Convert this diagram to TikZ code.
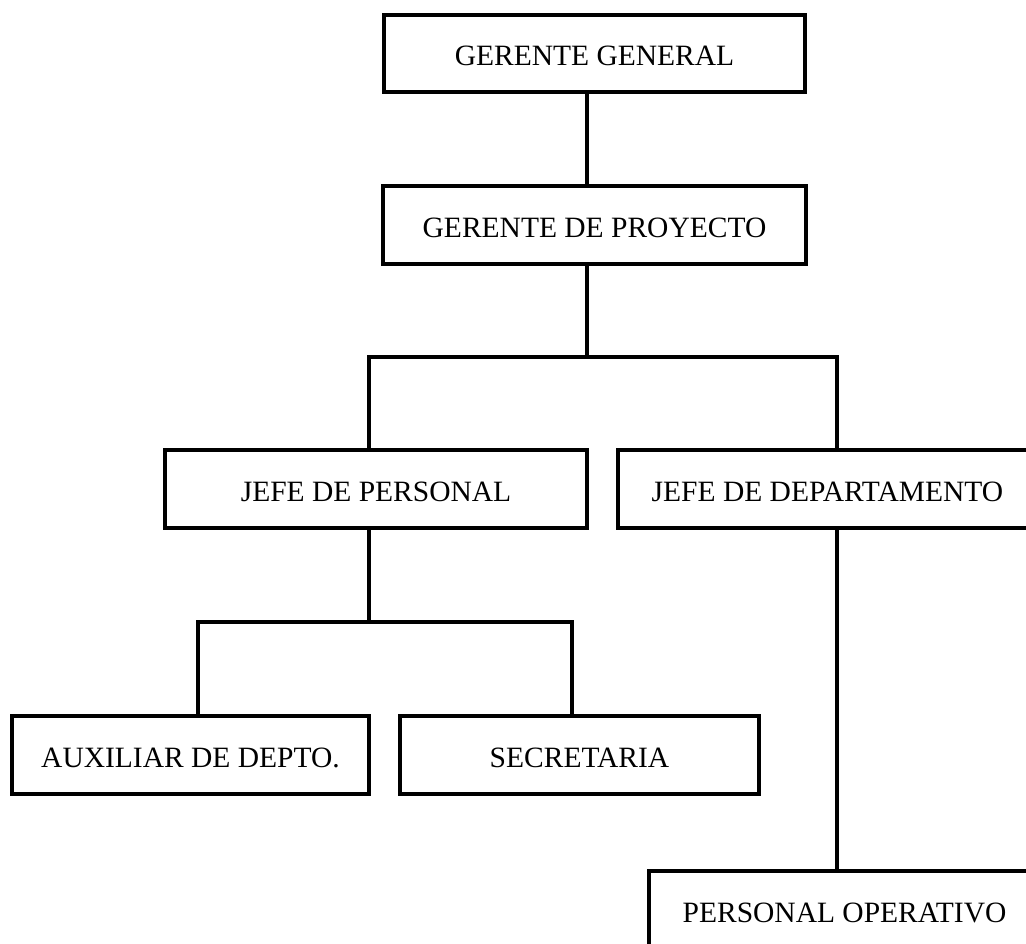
\documentclass[tikz,border=0pt]{standalone}
\usepackage{fontspec}
\setmainfont{Liberation Serif}
\usetikzlibrary{calc}
\tikzset{
  puesto/.style={draw=black, line width=3.5pt, fill=white, inner sep=0pt,
    font=\fontsize{29.5}{35}\selectfont, text height=25pt, text depth=0pt},
  enlace/.style={line width=3.5pt, draw=black},
}

\begin{document}
\begin{tikzpicture}[x=1pt, y=-1pt]
  % page 1026 x 944, the right-hand boxes run past the edge
  \clip (0,0) rectangle (1026,944);
  % boxes
  \node[puesto, minimum width=421pt, minimum height=77pt] (gg)  at (594.5,53.5) {GERENTE GENERAL};
  \node[puesto, minimum width=423pt, minimum height=78pt] (gdp) at (594.5,225)  {GERENTE DE PROYECTO};
  \node[puesto, minimum width=422pt, minimum height=78pt] (jdp) at (376,489)    {JEFE DE PERSONAL};
  \node[puesto, minimum width=419pt, minimum height=78pt] (jdd) at (827.5,489)  {JEFE DE DEPARTAMENTO};
  \node[puesto, minimum width=357pt, minimum height=78pt] (aux) at (190.5,755)  {AUXILIAR DE DEPTO.};
  \node[puesto, minimum width=359pt, minimum height=78pt] (sec) at (579.5,755)  {SECRETARIA};
  \node[puesto, minimum width=391pt, minimum height=78pt] (po)  at (844.5,910)  {PERSONAL OPERATIVO};
  % line positions
  \coordinate (eje)  at (587,0);
  \coordinate (izq1) at (369,0);
  \coordinate (der1) at (837,0);
  \coordinate (izq2) at (198,0);
  \coordinate (der2) at (572,0);
  \coordinate (bus1) at (0,357);
  \coordinate (bus2) at (0,622);
  % links
  \draw[enlace] (gg.south -| eje) -- (gdp.north -| eje);
  \draw[enlace] (gdp.south -| eje) -- (eje |- bus1);
  \draw[enlace] (jdp.north -| izq1) -- (izq1 |- bus1) -- (der1 |- bus1) -- (jdd.north -| der1);
  \draw[enlace] (jdp.south -| izq1) -- (izq1 |- bus2);
  \draw[enlace] (aux.north -| izq2) -- (izq2 |- bus2) -- (der2 |- bus2) -- (sec.north -| der2);
  \draw[enlace] (jdd.south -| der1) -- (po.north -| der1);
\end{tikzpicture}
\end{document}
